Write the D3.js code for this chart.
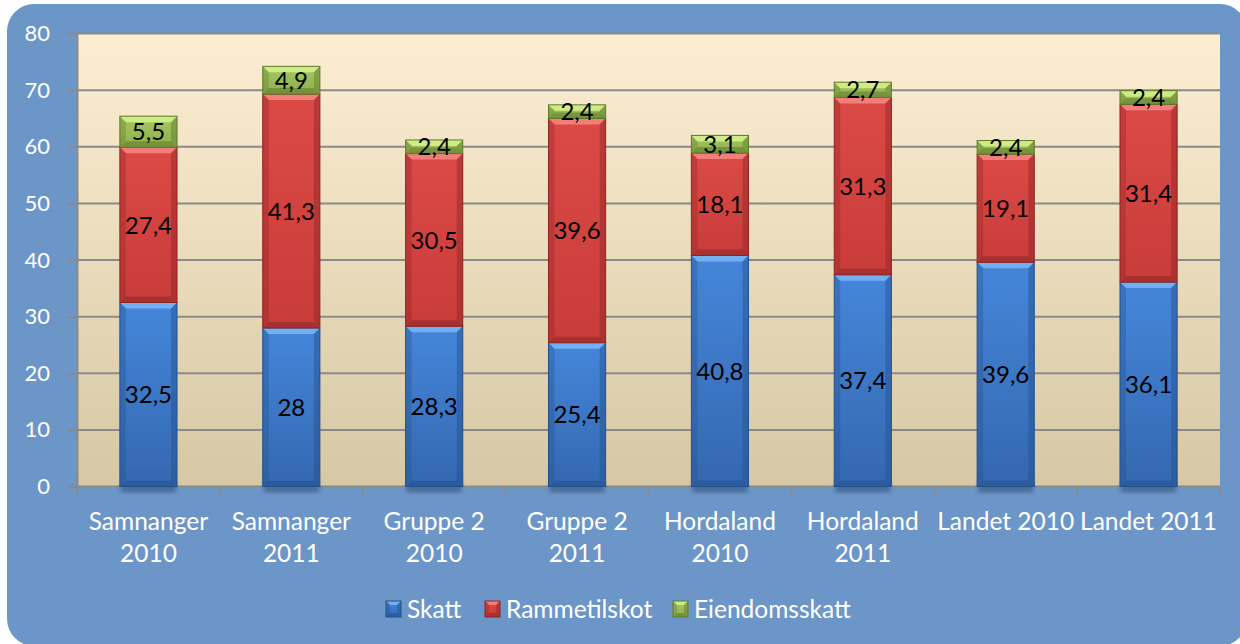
<!DOCTYPE html>
<meta charset="utf-8">
<style>
body { margin: 0; background: #fff; }
text { font-family: Lato, "Open Sans", sans-serif; }
</style>
<body>
<script src="https://d3js.org/d3.v7.min.js"></script>
<script>

// data
var categories = ["Samnanger 2010", "Samnanger 2011", "Gruppe 2 2010", "Gruppe 2 2011",
                  "Hordaland 2010", "Hordaland 2011", "Landet 2010", "Landet 2011"];
var catLines = [["Samnanger", "2010"], ["Samnanger", "2011"], ["Gruppe 2", "2010"], ["Gruppe 2", "2011"],
                ["Hordaland", "2010"], ["Hordaland", "2011"], ["Landet 2010"], ["Landet 2011"]];
var seriesNames = ["Skatt", "Rammetilskot", "Eiendomsskatt"];
var skatt = [32.5, 28, 28.3, 25.4, 40.8, 37.4, 39.6, 36.1];
var rammetilskot = [27.4, 41.3, 30.5, 39.6, 18.1, 31.3, 19.1, 31.4];
var eiendomsskatt = [5.5, 4.9, 2.4, 2.4, 3.1, 2.7, 2.4, 2.4];
var yTicks = [0, 10, 20, 30, 40, 50, 60, 70, 80];

var W = 1240, H = 644;
var plot = {left: 77, right: 1220, top: 33.5, bottom: 486.5};

// colours per series: base top, base bottom, light bevel, dark bevel
var pal = [
    {a: "#4586da", b: "#3468b0", light: "#78b4f4", dark: "#24508c"},
    {a: "#dc4a46", b: "#c83c3a", light: "#f48480", dark: "#8e2624"},
    {a: "#a6c863", b: "#8fae4c", light: "#d4ef8a", dark: "#5e7a2c"}
];

var svg = d3.select("body").append("svg")
    .attr("width", W)
    .attr("height", H);

var defs = svg.append("defs");

var bg = defs.append("linearGradient").attr("id", "plotbg")
    .attr("x1", 0).attr("y1", 0).attr("x2", 0).attr("y2", 1);
bg.append("stop").attr("offset", "0%").attr("stop-color", "#fdeed3");
bg.append("stop").attr("offset", "100%").attr("stop-color", "#d6c8a4");

pal.forEach(function (p, i) {
    var g = defs.append("linearGradient").attr("id", "seg" + i)
        .attr("x1", 0).attr("y1", 0).attr("x2", 0).attr("y2", 1);
    g.append("stop").attr("offset", "0%").attr("stop-color", p.a);
    g.append("stop").attr("offset", "100%").attr("stop-color", p.b);
});

defs.append("filter").attr("id", "shadow")
    .attr("x", "-20%").attr("y", "-20%").attr("width", "140%").attr("height", "140%")
    .append("feGaussianBlur").attr("stdDeviation", 2);

// blue panel
svg.append("rect")
    .attr("x", 7).attr("y", 4)
    .attr("width", 1240).attr("height", 642)
    .attr("rx", 27).attr("ry", 27)
    .attr("fill", "#6d96c8");

// scales
var x = d3.scaleBand().domain(categories).range([plot.left, plot.right]).paddingInner(0.6).paddingOuter(0.3);
var y = d3.scaleLinear().domain([0, 80]).range([plot.bottom, plot.top]);

// plot area background
svg.append("rect")
    .attr("x", plot.left).attr("y", plot.top)
    .attr("width", plot.right - plot.left).attr("height", plot.bottom - plot.top)
    .attr("fill", "url(#plotbg)");

// gridlines + y axis
var yAxis = svg.append("g")
    .attr("transform", "translate(" + plot.left + ",0)")
    .call(d3.axisLeft(y).tickValues(yTicks).tickSize(9).tickPadding(18));
yAxis.select(".domain").attr("stroke", "#8a8a8a").attr("stroke-width", 2);
yAxis.selectAll(".tick line").attr("stroke", "#8a8a8a").attr("stroke-width", 2);
yAxis.selectAll(".tick text")
    .attr("fill", "#fff").attr("font-size", 22);

svg.append("g").selectAll("line")
    .data(yTicks.filter(function (d) { return d > 0; }))
    .enter().append("line")
    .attr("x1", plot.left).attr("x2", plot.right)
    .attr("y1", function (d) { return y(d); })
    .attr("y2", function (d) { return y(d); })
    .attr("stroke", "#8a8a8a").attr("stroke-width", 2);

// x axis line and ticks at category borders
var step = x.step();
var borders = d3.range(categories.length + 1).map(function (i) { return plot.left + i * step; });
svg.append("line")
    .attr("x1", plot.left).attr("x2", plot.right)
    .attr("y1", plot.bottom).attr("y2", plot.bottom)
    .attr("stroke", "#8a8a8a").attr("stroke-width", 2);
svg.append("g").selectAll("line")
    .data(borders).enter().append("line")
    .attr("x1", function (d) { return d; }).attr("x2", function (d) { return d; })
    .attr("y1", plot.bottom).attr("y2", plot.bottom + 8)
    .attr("stroke", "#8a8a8a").attr("stroke-width", 2);

// stacked data
var rows = categories.map(function (c, i) {
    return {cat: c, Skatt: skatt[i], Rammetilskot: rammetilskot[i], Eiendomsskatt: eiendomsskatt[i]};
});
var stacked = d3.stack().keys(seriesNames)(rows);

function bevelBox(g, bx, by, bw, bh, si, b) {
    var p = pal[si];
    g.append("rect").attr("x", bx).attr("y", by).attr("width", bw).attr("height", bh)
        .attr("fill", "url(#seg" + si + ")");
    var bb = Math.min(b, bh / 2);
    var pts = function (arr) { return arr.map(function (q) { return q.join(","); }).join(" "); };
    g.append("polygon").attr("fill", p.light).attr("opacity", 0.9)
        .attr("points", pts([[bx, by], [bx + bw, by], [bx + bw - b, by + bb], [bx + b, by + bb]]));
    g.append("polygon").attr("fill", p.dark).attr("opacity", 0.35)
        .attr("points", pts([[bx, by], [bx + b, by + bb], [bx + b, by + bh - bb], [bx, by + bh]]));
    g.append("polygon").attr("fill", p.dark).attr("opacity", 0.45)
        .attr("points", pts([[bx + bw, by], [bx + bw - b, by + bb], [bx + bw - b, by + bh - bb], [bx + bw, by + bh]]));
    g.append("polygon").attr("fill", p.dark).attr("opacity", 0.55)
        .attr("points", pts([[bx, by + bh], [bx + b, by + bh - bb], [bx + bw - b, by + bh - bb], [bx + bw, by + bh]]));
    g.append("rect").attr("x", bx).attr("y", by).attr("width", bw).attr("height", bh)
        .attr("fill", "none").attr("stroke", p.dark).attr("stroke-width", 1);
}

// bar shadows
svg.append("g").selectAll("rect")
    .data(rows).enter().append("rect")
    .attr("x", function (d) { return x(d.cat) + 1; })
    .attr("y", plot.bottom - 4)
    .attr("width", x.bandwidth() - 2)
    .attr("height", 10)
    .attr("fill", "#1f3a60").attr("opacity", 0.45)
    .attr("filter", "url(#shadow)");

var bars = svg.append("g");
stacked.forEach(function (layer, si) {
    layer.forEach(function (d) {
        var g = bars.append("g");
        var y0 = y(d[1]), y1 = y(d[0]);
        bevelBox(g, x(d.data.cat), y0, x.bandwidth(), y1 - y0, si, 6);
    });
});

// value labels
stacked.forEach(function (layer) {
    bars.append("g").selectAll("text")
        .data(layer).enter().append("text")
        .attr("x", function (d) { return x(d.data.cat) + x.bandwidth() / 2; })
        .attr("y", function (d) { return (y(d[0]) + y(d[1])) / 2; })
        .attr("dy", "0.36em")
        .attr("text-anchor", "middle")
        .attr("font-size", 24)
        .attr("fill", "#000")
        .text(function (d) { return String(d.data[layer.key]).replace(".", ","); });
});

// category labels
var catG = svg.append("g").selectAll("text")
    .data(categories).enter().append("text")
    .attr("text-anchor", "middle")
    .attr("fill", "#fff")
    .attr("font-size", 24.5)
    .attr("x", function (d) { return x(d) + x.bandwidth() / 2; })
    .attr("y", 530);
catG.each(function (d, i) {
    var t = d3.select(this);
    catLines[i].forEach(function (line, j) {
        t.append("tspan")
            .attr("x", x(d) + x.bandwidth() / 2)
            .attr("dy", j === 0 ? 0 : 32)
            .text(line);
    });
});

// legend
var legendX = [386, 485, 673];
var legend = svg.append("g");
seriesNames.forEach(function (name, i) {
    var g = legend.append("g");
    bevelBox(g, legendX[i], 601, 15, 16, i, 4);
    g.append("text")
        .attr("x", legendX[i] + 21)
        .attr("y", 618)
        .attr("fill", "#fff")
        .attr("font-size", 24.5)
        .text(name);
});

</script>
</body>
